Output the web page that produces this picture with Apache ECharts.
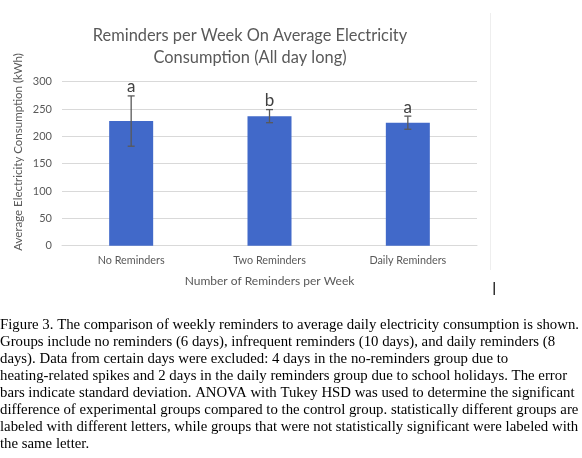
<!DOCTYPE html>
<html>
<head>
<meta charset="utf-8">
<script src="https://cdn.jsdelivr.net/npm/echarts@6/dist/echarts.min.js"></script>
<style>
html,body{margin:0;padding:0;background:#fff;}
#c{width:582px;height:458px;}
</style>
</head>
<body>
<div id="c"></div>
<script>
var categories = ['No Reminders', 'Two Reminders', 'Daily Reminders'];
var means = [228, 237, 225];
var sds = [46, 12, 12];
var letters = ['a', 'b', 'a'];
var yTicks = { min: 0, max: 300, interval: 50 };

var caption = [
  'Figure 3. The comparison of weekly reminders to average daily electricity consumption is shown.',
  'Groups include no reminders (6 days), infrequent reminders (10 days), and daily reminders (8',
  'days). Data from certain days were excluded: 4 days in the no-reminders group due to',
  'heating-related spikes and 2 days in the daily reminders group due to school holidays. The error',
  'bars indicate standard deviation. ANOVA with Tukey HSD was used to determine the significant',
  'difference of experimental groups compared to the control group. statistically different groups are',
  'labeled with different letters, while groups that were not statistically significant were labeled with',
  'the same letter.'
];

var errData = categories.map(function (c, i) { return [i, means[i] - sds[i], means[i] + sds[i], letters[i]]; });

var chart = echarts.init(document.getElementById('c'));
var sansFont = 'Lato';
chart.setOption({
  animation: false,
  backgroundColor: '#fff',
  title: {
    text: 'Reminders per Week On Average Electricity\nConsumption (All day long)',
    left: 245,
    top: 20,
    textAlign: 'center',
    textStyle: { fontFamily: sansFont, fontSize: 16.4, fontWeight: 'normal', color: '#595959', lineHeight: 22 }
  },
  grid: { left: 62, right: 105, top: 81.7, bottom: 212.3, containLabel: false },
  xAxis: {
    type: 'category',
    data: categories,
    axisTick: { show: false },
    axisLine: { lineStyle: { color: '#d9d9d9', width: 1 } },
    axisLabel: { color: '#595959', fontFamily: sansFont, fontSize: 10.8, margin: 9 },
    name: 'Number of Reminders per Week',
    nameLocation: 'middle',
    nameGap: 29,
    nameTextStyle: { color: '#595959', fontFamily: sansFont, fontSize: 12 }
  },
  yAxis: {
    type: 'value',
    min: yTicks.min, max: yTicks.max, interval: yTicks.interval,
    axisLine: { show: false },
    axisTick: { show: false },
    splitLine: { lineStyle: { color: '#d9d9d9', width: 1 } },
    axisLabel: { color: '#595959', fontFamily: sansFont, fontSize: 11, margin: 10 }
  },
  graphic: [
    {
      type: 'text', x: 18, y: 152, rotation: Math.PI / 2,
      style: { text: 'Average Electricity Consumption (kWh)', fill: '#595959', font: '11.5px ' + sansFont, align: 'center', verticalAlign: 'middle' }
    },
    {
      type: 'line', shape: { x1: 490.5, y1: 13, x2: 490.5, y2: 270 },
      style: { stroke: '#eeeeee', lineWidth: 1 }
    },
    {
      type: 'rect', shape: { x: 493.5, y: 282, width: 1.5, height: 13 },
      style: { fill: '#333333' }
    },
    {
      type: 'text', x: 0, y: 317,
      style: { text: caption.join('\n'), fill: '#000', font: '14.8px "Liberation Serif"', lineHeight: 17, align: 'left', verticalAlign: 'top' }
    }
  ],
  series: [
    {
      type: 'bar',
      data: means,
      barWidth: 44,
      itemStyle: { color: '#4169C9' }
    },
    {
      type: 'custom',
      data: errData,
      z: 10,
      renderItem: function (params, api) {
        var x = api.value(0);
        var lo = api.coord([x, api.value(1)]);
        var hi = api.coord([x, api.value(2)]);
        var cap = 3.5;
        var st = { stroke: '#595959', lineWidth: 1.3 };
        return {
          type: 'group',
          children: [
            { type: 'line', shape: { x1: lo[0], y1: lo[1], x2: hi[0], y2: hi[1] }, style: st },
            { type: 'line', shape: { x1: lo[0] - cap, y1: lo[1], x2: lo[0] + cap, y2: lo[1] }, style: st },
            { type: 'line', shape: { x1: hi[0] - cap, y1: hi[1], x2: hi[0] + cap, y2: hi[1] }, style: st },
            { type: 'text', x: hi[0], y: hi[1] - 9, style: { text: api.value(3), fill: '#404040', font: '17px ' + sansFont, align: 'center', verticalAlign: 'middle' } }
          ]
        };
      }
    }
  ]
});
</script>
</body>
</html>
